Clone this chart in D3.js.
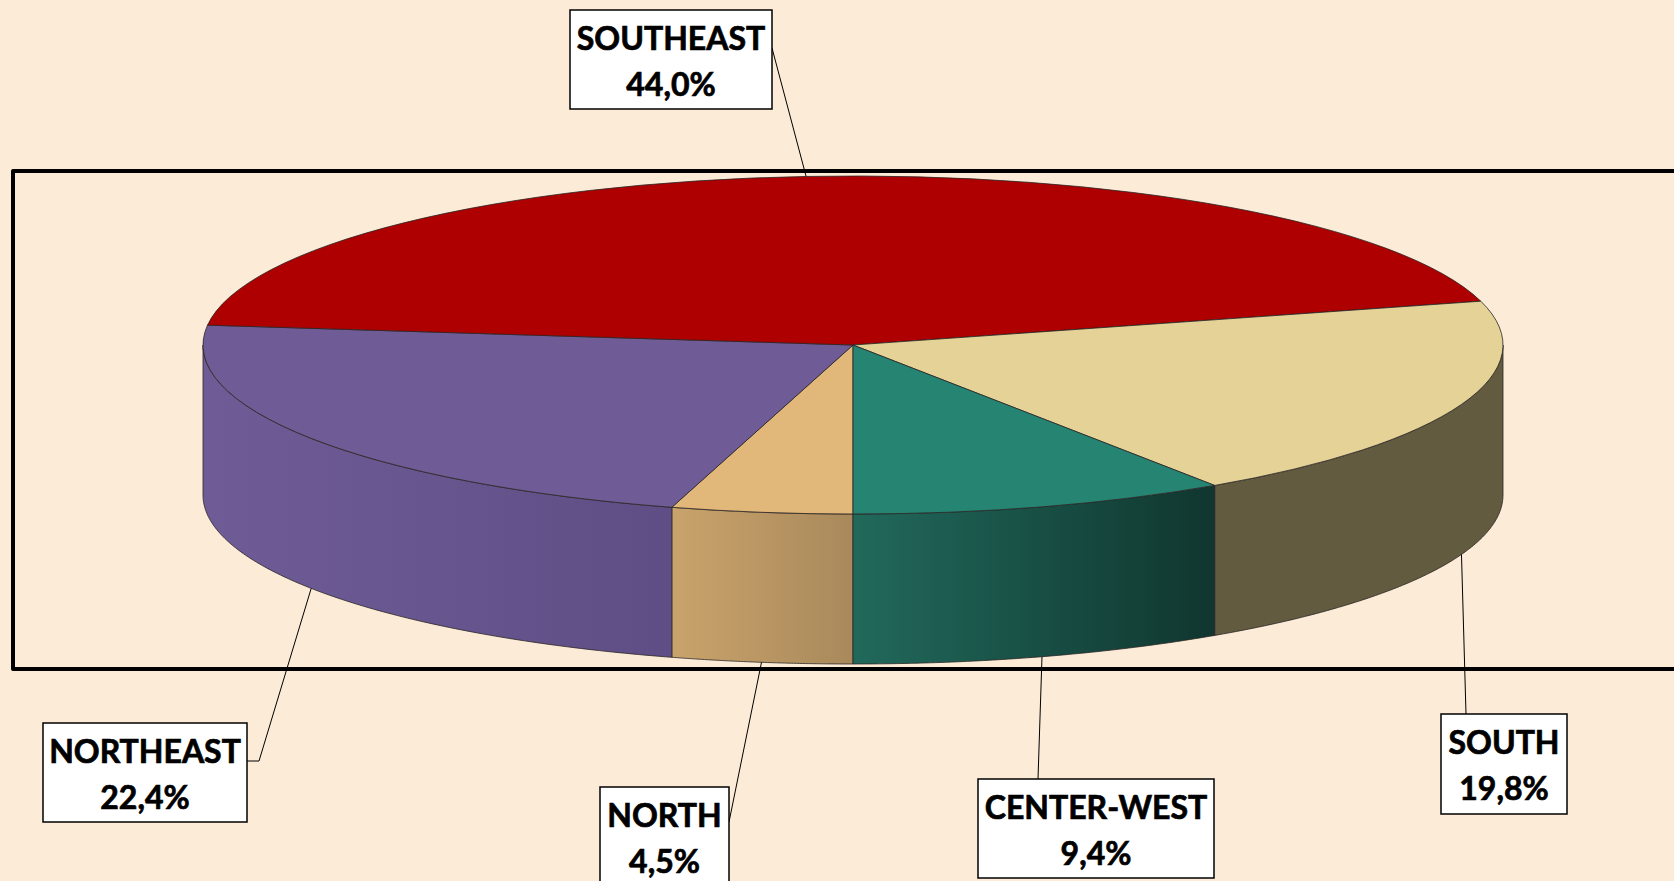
<!DOCTYPE html>
<html>
<head>
<meta charset="utf-8">
<script src="https://cdn.jsdelivr.net/npm/d3@7"></script>
<style>
  html, body { margin: 0; padding: 0; background: #fbebd7; overflow: hidden; }
  svg { display: block; }
  .lbl { font-family: Lato, "Open Sans", sans-serif; font-weight: 700; font-size: 32px; fill: #000; stroke: #000; stroke-width: 0.7px; }
</style>
</head>
<body>
<svg id="chart" width="1674" height="881"></svg>
<script>
// Share of total by region (%)
const regions = ["NORTH", "NORTHEAST", "SOUTHEAST", "SOUTH", "CENTER-WEST"];
const shares = [4.5, 22.4, 44.0, 19.8, 9.4];
const topColors = ["#e2b77a", "#6f5c96", "#ae0000", "#e4d296", "#258472"];
const sideLight = ["#c9a36b", "#6f5c97", "#8a0000", "#625b40", "#21695b"];
const sideDark  = ["#a9895b", "#5e4e85", "#6a0000", "#625b40", "#10362f"];

// Label box placement (top-left corner, size) and where its leader leaves the box
const labelBoxes = [
  { x: 600, y: 787, w: 129, h: 102, lx: 129, ly: 35 },
  { x: 43,  y: 723, w: 204, h: 99,  lx: 204, ly: 38, elbow: 12 },
  { x: 570, y: 10,  w: 202, h: 99,  lx: 202, ly: 38 },
  { x: 1441, y: 714, w: 126, h: 100, lx: 25, ly: 0 },
  { x: 978, y: 779, w: 236, h: 99,  lx: 60, ly: 0 }
];

const W = 1674, H = 881;
const cx = 853, cy = 345, rx = 650, ry = 169, depth = 150;

const svg = d3.select("#chart");
const fmt = d3.formatLocale({ decimal: ",", thousands: ".", grouping: [3], currency: ["", ""] }).format(".1f");

// Angles measured clockwise from 12 o'clock; first slice begins at 6 o'clock
const pie = d3.pie().sort(null).value(d => d).startAngle(Math.PI).endAngle(3 * Math.PI);
const arcs = pie(shares);

// Elliptical projection of the disc
const px = a => cx + rx * Math.sin(a);
const py = a => cy - ry * Math.cos(a);

svg.append("rect").attr("width", W).attr("height", H).attr("fill", "#fbebd7");

// Chart frame
svg.append("rect")
  .attr("x", 13).attr("y", 171)
  .attr("width", 1720).attr("height", 498)
  .attr("fill", "none").attr("stroke", "#000").attr("stroke-width", 4)
  .attr("stroke-linejoin", "round");

const defs = svg.append("defs");

// Front wall of each slice (only the part facing the viewer, angles in [90°, 270°])
const sideG = svg.append("g");
arcs.forEach((d, i) => {
  const ranges = [];
  [[Math.PI / 2, 3 * Math.PI / 2], [Math.PI / 2 + 2 * Math.PI, 3 * Math.PI / 2 + 2 * Math.PI]].forEach(([lo, hi]) => {
    const a0 = Math.max(d.startAngle, lo), a1 = Math.min(d.endAngle, hi);
    if (a1 > a0) ranges.push([a0, a1]);
  });
  ranges.forEach(([a0, a1], k) => {
    const pts = d3.range(0, 121).map(t => a0 + (a1 - a0) * t / 120);
    const top = pts.map(a => [px(a), py(a)]);
    const bottom = pts.slice().reverse().map(a => [px(a), py(a) + depth]);
    const xs = top.map(p => p[0]);
    const gid = "side" + i + "_" + k;
    const grad = defs.append("linearGradient").attr("id", gid)
      .attr("gradientUnits", "userSpaceOnUse")
      .attr("x1", d3.min(xs)).attr("x2", d3.max(xs)).attr("y1", 0).attr("y2", 0);
    grad.append("stop").attr("offset", 0).attr("stop-color", sideLight[i]);
    grad.append("stop").attr("offset", 1).attr("stop-color", sideDark[i]);
    sideG.append("path")
      .attr("d", d3.line()(top.concat(bottom)) + "Z")
      .attr("fill", `url(#${gid})`)
      .attr("stroke", "#2b2626").attr("stroke-opacity", 0.8).attr("stroke-width", 1)
      .attr("stroke-linejoin", "round");
  });
});

// Top faces
const topG = svg.append("g");
arcs.forEach((d, i) => {
  const a0 = d.startAngle, a1 = d.endAngle;
  const large = (a1 - a0) > Math.PI ? 1 : 0;
  const path = `M${cx},${cy}L${px(a0)},${py(a0)}A${rx},${ry} 0 ${large} 1 ${px(a1)},${py(a1)}Z`;
  topG.append("path")
    .attr("d", path)
    .attr("fill", topColors[i])
    .attr("stroke", "#2b2626").attr("stroke-opacity", 0.8).attr("stroke-width", 1)
    .attr("stroke-linejoin", "round");
});

// Leader lines and value labels
const labelG = svg.append("g");
arcs.forEach((d, i) => {
  const mid = (d.startAngle + d.endAngle) / 2;
  const m = ((mid % (2 * Math.PI)) + 2 * Math.PI) % (2 * Math.PI);
  const front = m > Math.PI / 2 && m < 3 * Math.PI / 2;
  const ax = px(mid), ay = py(mid) + (front ? depth : 0);
  const b = labelBoxes[i];

  const start = [b.x + b.lx, b.y + b.ly];
  const pts = [start];
  if (b.elbow) pts.push([start[0] + b.elbow, start[1]]);
  pts.push([ax, ay]);
  labelG.append("path")
    .attr("d", d3.line()(pts))
    .attr("fill", "none").attr("stroke", "#000").attr("stroke-width", 1);

  labelG.append("rect")
    .attr("x", b.x).attr("y", b.y).attr("width", b.w).attr("height", b.h)
    .attr("fill", "#fff").attr("stroke", "#000").attr("stroke-width", 1.5);
  labelG.append("text").attr("class", "lbl")
    .attr("x", b.x + b.w / 2).attr("y", b.y + 40)
    .attr("text-anchor", "middle").text(regions[i]);
  labelG.append("text").attr("class", "lbl")
    .attr("x", b.x + b.w / 2).attr("y", b.y + 86)
    .attr("text-anchor", "middle").text(fmt(shares[i]) + "%");
});
</script>
</body>
</html>
